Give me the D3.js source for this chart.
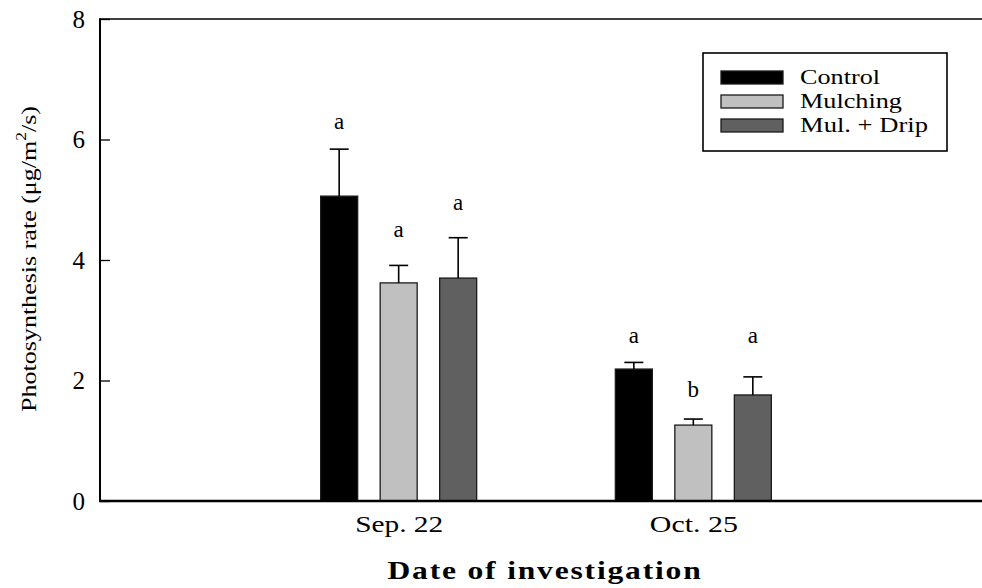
<!DOCTYPE html>
<html>
<head>
<meta charset="utf-8">
<script src="https://cdn.jsdelivr.net/npm/d3@7"></script>
<style>
  body { margin: 0; background: #fff; }
  svg { display: block; }
  text { font-family: "Liberation Serif", "Times New Roman", serif; fill: #000; }
</style>
</head>
<body>
<svg id="chart"></svg>
<script>
const WIDTH = 982;
const HEIGHT = 588;

// data
var dates = ['Sep. 22', 'Oct. 25'];
var treatments = ['Control', 'Mulching', 'Mul. + Drip'];
var colors = ['#000000', '#c0c0c0', '#606060'];
var means = [
    [5.06, 3.62, 3.70],
    [2.19, 1.26, 1.76]
];
var errors = [
    [0.78, 0.29, 0.67],
    [0.11, 0.10, 0.30]
];
var letters = [
    ['a', 'a', 'a'],
    ['a', 'b', 'a']
];
var letterY = [
    [6.17, 4.38, 4.83],
    [2.62, 1.73, 2.62]
];
var yTicks = [0, 2, 4, 6, 8];

// build rows from the arrays
var rows = [];
dates.forEach(function(d, i){
    treatments.forEach(function(t, j){
        rows.push({date: d, treatment: t, color: colors[j], mean: means[i][j],
                   err: errors[i][j], letter: letters[i][j], ly: letterY[i][j]});
    });
});

var svg = d3.select('#chart')
    .attr('width', WIDTH)
    .attr('height', HEIGHT);

// plot edges (avoid the name "top", it is window.top)
var pLeft = 100, pRight = 982, pTop = 19, pBottom = 501;

var yScale = d3.scaleLinear().domain([0, 8]).range([pBottom, pTop]);
var xScale = d3.scalePoint().domain(dates).range([104, 988]).padding(1);
var inner = d3.scaleBand().domain(treatments).range([-78, 78]).paddingInner(0.378);

// top frame line
svg.append('line')
    .attr('x1', pLeft).attr('x2', pRight)
    .attr('y1', pTop).attr('y2', pTop)
    .attr('stroke', '#000').attr('stroke-width', 1.6);

// bars
svg.selectAll('rect.bar')
    .data(rows)
    .enter()
    .append('rect')
    .attr('class', 'bar')
    .attr('x', function(d){ return xScale(d.date) + inner(d.treatment); })
    .attr('width', inner.bandwidth())
    .attr('y', function(d){ return yScale(d.mean); })
    .attr('height', function(d){ return yScale(0) - yScale(d.mean); })
    .attr('fill', function(d){ return d.color; })
    .attr('stroke', '#1a1a1a')
    .attr('stroke-width', 1.3);

// error bars (upper only)
var eb = svg.selectAll('g.err')
    .data(rows)
    .enter()
    .append('g')
    .attr('class', 'err')
    .attr('transform', function(d){
        return 'translate(' + (xScale(d.date) + inner(d.treatment) + inner.bandwidth() / 2) + ',0)';
    });
eb.append('line')
    .attr('x1', 0).attr('x2', 0)
    .attr('y1', function(d){ return yScale(d.mean); })
    .attr('y2', function(d){ return yScale(d.mean + d.err); })
    .attr('stroke', '#000').attr('stroke-width', 1.6);
eb.append('line')
    .attr('x1', -9.5).attr('x2', 9.5)
    .attr('y1', function(d){ return yScale(d.mean + d.err); })
    .attr('y2', function(d){ return yScale(d.mean + d.err); })
    .attr('stroke', '#000').attr('stroke-width', 1.6);

// significance letters
svg.selectAll('text.letter')
    .data(rows)
    .enter()
    .append('text')
    .attr('class', 'letter')
    .attr('x', function(d){ return xScale(d.date) + inner(d.treatment) + inner.bandwidth() / 2; })
    .attr('y', function(d){ return yScale(d.ly); })
    .attr('text-anchor', 'middle')
    .attr('font-size', 23)
    .text(function(d){ return d.letter; });

// y axis, ticks pointing inward
var yAxis = d3.axisRight(yScale).tickValues(yTicks).tickSize(10).tickFormat(d3.format('d'));
var yg = svg.append('g')
    .attr('transform', 'translate(' + pLeft + ',0)')
    .call(yAxis);
yg.select('.domain').remove();
yg.selectAll('.tick line').attr('stroke', '#000').attr('stroke-width', 1.3);
yg.selectAll('.tick text')
    .attr('x', -15)
    .attr('text-anchor', 'end')
    .attr('font-size', 25)
    .attr('font-family', '"Liberation Serif", "Times New Roman", serif');
svg.append('line')
    .attr('x1', pLeft).attr('x2', pLeft)
    .attr('y1', pTop - 0.8).attr('y2', pBottom)
    .attr('stroke', '#000').attr('stroke-width', 2);

// x axis
var xAxis = d3.axisBottom(xScale).tickSize(0).tickPadding(0);
var xg = svg.append('g')
    .attr('transform', 'translate(0,' + pBottom + ')')
    .call(xAxis);
xg.select('.domain').remove();
xg.selectAll('.tick text')
    .attr('y', 31)
    .attr('dy', 0)
    .attr('font-size', 23)
    .attr('font-family', '"Liberation Serif", "Times New Roman", serif')
    .attr('textLength', 88)
    .attr('lengthAdjust', 'spacingAndGlyphs');
svg.append('line')
    .attr('x1', pLeft - 1).attr('x2', pRight)
    .attr('y1', pBottom).attr('y2', pBottom)
    .attr('stroke', '#000').attr('stroke-width', 2.4);

// axis titles
svg.append('text')
    .attr('x', 545).attr('y', 579)
    .attr('text-anchor', 'middle')
    .attr('font-size', 26)
    .attr('font-weight', 'bold')
    .attr('textLength', 315)
    .attr('lengthAdjust', 'spacingAndGlyphs')
    .attr('letter-spacing', 1.5)
    .text('Date of investigation');

var yt = svg.append('text')
    .attr('transform', 'translate(36,259) rotate(-90)')
    .attr('text-anchor', 'middle')
    .attr('font-size', 21)
    .attr('textLength', 306)
    .attr('lengthAdjust', 'spacingAndGlyphs');
yt.append('tspan').text('Photosynthesis rate (\u03bcg/m');
yt.append('tspan').attr('dy', -10).attr('font-size', 14).text('2');
yt.append('tspan').attr('dy', 10).text('/s)');

// legend
var lg = svg.append('g').attr('transform', 'translate(703,53)');
lg.append('rect')
    .attr('width', 244).attr('height', 98)
    .attr('fill', '#fff').attr('stroke', '#000').attr('stroke-width', 1.6);
var legendLen = [80, 102, 128];
var item = lg.selectAll('g.item')
    .data(treatments)
    .enter()
    .append('g')
    .attr('class', 'item')
    .attr('transform', function(d, i){ return 'translate(0,' + (18 + i * 24) + ')'; });
item.append('rect')
    .attr('x', 18).attr('width', 62).attr('height', 13)
    .attr('fill', function(d, i){ return colors[i]; })
    .attr('stroke', '#1a1a1a').attr('stroke-width', 1.3);
item.append('text')
    .attr('x', 97).attr('y', 13)
    .attr('font-size', 22)
    .attr('textLength', function(d, i){ return legendLen[i]; })
    .attr('lengthAdjust', 'spacingAndGlyphs')
    .text(function(d){ return d; });
</script>
</body>
</html>
